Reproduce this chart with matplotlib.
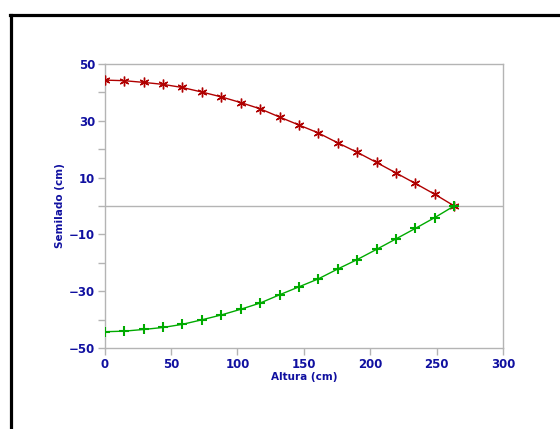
import numpy as np
import matplotlib
matplotlib.use("Agg")
import matplotlib.pyplot as plt
from matplotlib.lines import Line2D

# Altura (cm) y semilado (cm)
altura = [0, 14.6, 29.3, 43.9, 58.5, 73.2, 87.8, 102.4, 117.1, 131.7,
          146.3, 160.9, 175.6, 190.2, 204.8, 219.5, 234.1, 248.7, 263.3]
semilado_sup = [44.3, 44.1, 43.5, 42.8, 41.7, 40.1, 38.4, 36.4, 34.2, 31.3,
                28.5, 25.7, 22.2, 18.9, 15.3, 11.6, 7.9, 4.1, 0.0]
semilado_inf = [-v for v in semilado_sup]

x_ticks = [0, 50, 100, 150, 200, 250, 300]
y_ticks = [-50, -30, -10, 10, 30, 50]

azul = "#1010A0"
gris = "#B4B4B4"

fig = plt.figure(figsize=(5.6, 4.29), dpi=100)
ax = fig.add_axes([0.187, 0.189, 0.711, 0.662])

ax.axhline(0, color=gris, lw=1.0, zorder=1)
ax.plot(altura, semilado_sup, color="#B00000", lw=1.0,
        marker=(6, 2, 0), ms=7, mew=1.0, zorder=3)
ax.plot(altura, semilado_inf, color="#00AA00", lw=1.0,
        marker="+", ms=7, mew=1.5, zorder=3)

ax.set_xlim(0, 300)
ax.set_ylim(-50, 50)
ax.set_xticks(x_ticks)
ax.set_yticks(y_ticks)
ax.set_yticks(np.arange(-40, 50, 20), minor=True)

for s in ax.spines.values():
    s.set_color(gris)
    s.set_linewidth(1.0)

ax.tick_params(which="both", direction="out", color=gris, length=5, width=1.0)
ax.tick_params(axis="both", labelsize=8.5, labelcolor=azul, pad=2)
for lbl in ax.get_xticklabels() + ax.get_yticklabels():
    lbl.set_fontweight("bold")

ax.set_xlabel("Altura (cm)", fontsize=7.5, color=azul, fontweight="bold", labelpad=1)
ax.set_ylabel("Semilado (cm)", fontsize=7.5, color=azul, fontweight="bold", labelpad=3)

# marco negro exterior
fig.add_artist(Line2D([10.5 / 560, 10.5 / 560], [0, 1 - 15 / 429],
                      transform=fig.transFigure, color="black", lw=2.3))
fig.add_artist(Line2D([9.5 / 560, 1], [1 - 15 / 429, 1 - 15 / 429],
                      transform=fig.transFigure, color="black", lw=2.3))

fig.savefig("out.png", dpi=100)
